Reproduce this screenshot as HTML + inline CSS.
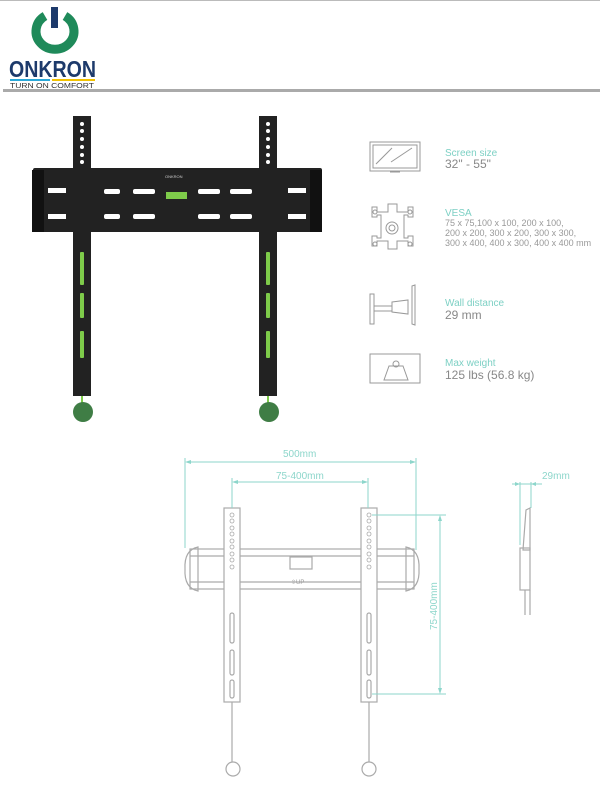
<!DOCTYPE html>
<html><head><meta charset="utf-8"><style>body{margin:0;background:#fff}svg{display:block}text{font-family:"Liberation Sans",sans-serif}</style></head><body>
<svg width="600" height="800" viewBox="0 0 600 800" xmlns="http://www.w3.org/2000/svg">
<line x1="0" y1="0.5" x2="600" y2="0.5" stroke="#bbb"/>
<!-- logo -->
<path d="M45 16 A19 18 0 1 0 65 16" fill="none" stroke="#1f8a5a" stroke-width="9"/>
<rect x="51" y="7" width="7" height="21" fill="#1d3a6b"/>
<text x="9" y="77" font-size="23" font-weight="bold" fill="#1d3a6b" textLength="87" lengthAdjust="spacingAndGlyphs">ONKRON</text>
<rect x="10" y="79" width="40" height="2" fill="#2aa8d8"/><rect x="52" y="79" width="43" height="2" fill="#f2c200"/>
<text x="10" y="88" font-size="7" fill="#333" textLength="84" lengthAdjust="spacingAndGlyphs">TURN ON COMFORT</text>
<rect x="3" y="89" width="597" height="3" fill="#aaa"/>
<!-- black mount -->
<g fill="#222">
<rect x="33" y="168" width="289" height="64" rx="2"/>
<rect x="73" y="116" width="18" height="280"/>
<rect x="259" y="116" width="18" height="280"/>
</g>
<rect x="32" y="170" width="12" height="62" fill="#111"/><rect x="310" y="170" width="12" height="62" fill="#111"/>
<g fill="#fff">
<rect x="104" y="189" width="16" height="5" rx="2"/><rect x="133" y="189" width="22" height="5" rx="2"/><rect x="198" y="189" width="22" height="5" rx="2"/><rect x="230" y="189" width="22" height="5" rx="2"/>
<rect x="104" y="214" width="16" height="5" rx="2"/><rect x="133" y="214" width="22" height="5" rx="2"/><rect x="198" y="214" width="22" height="5" rx="2"/><rect x="230" y="214" width="22" height="5" rx="2"/>
<rect x="48" y="188" width="18" height="5"/><rect x="48" y="214" width="18" height="5"/><rect x="288" y="188" width="18" height="5"/><rect x="288" y="214" width="18" height="5"/>
<circle cx="82" cy="124" r="2"/><circle cx="82" cy="131" r="2"/><circle cx="82" cy="139" r="2"/><circle cx="82" cy="147" r="2"/><circle cx="82" cy="155" r="2"/><circle cx="82" cy="162" r="2"/>
<circle cx="268" cy="124" r="2"/><circle cx="268" cy="131" r="2"/><circle cx="268" cy="139" r="2"/><circle cx="268" cy="147" r="2"/><circle cx="268" cy="155" r="2"/><circle cx="268" cy="162" r="2"/>
</g>
<rect x="166" y="192" width="21" height="7" fill="#7ecb4a"/>
<text x="165" y="178" font-size="4" fill="#ccc">ONKRON</text>
<g fill="#7ecb4a">
<rect x="80" y="252" width="4" height="33" rx="1"/><rect x="80" y="293" width="4" height="25" rx="1"/><rect x="80" y="331" width="4" height="27" rx="1"/>
<rect x="266" y="252" width="4" height="33" rx="1"/><rect x="266" y="293" width="4" height="25" rx="1"/><rect x="266" y="331" width="4" height="27" rx="1"/>
</g>
<line x1="82" y1="396" x2="82" y2="405" stroke="#7ecb4a" stroke-width="2"/><line x1="268" y1="396" x2="268" y2="405" stroke="#7ecb4a" stroke-width="2"/>
<circle cx="83" cy="412" r="10" fill="#3f7d45"/><circle cx="269" cy="412" r="10" fill="#3f7d45"/>
<!-- icons -->
<g fill="none" stroke="#999" stroke-width="1">
<rect x="370" y="142" width="50" height="29"/><rect x="373" y="145" width="44" height="23"/><line x1="376" y1="164" x2="392" y2="148"/><line x1="391" y1="162" x2="412" y2="148"/><line x1="390" y1="172" x2="400" y2="172"/>
<path d="M388 204h9v8h11v-5h5v10h-5v-2l-4 0v23h4v-2h5v10h-5v-5h-11v8h-9v-8h-11v5h-5v-10h5v2h4v-23h-4v2h-5v-10h5v5h11z"/>
<circle cx="392" cy="228" r="6"/><circle cx="392" cy="228" r="3"/>
<circle cx="375" cy="212" r="2"/><circle cx="410" cy="212" r="2"/><circle cx="375" cy="244" r="2"/><circle cx="410" cy="244" r="2"/>
<rect x="370" y="294" width="4" height="30"/><rect x="374" y="306" width="18" height="5"/><path d="M392 302l16-2v14l-16-2z"/><path d="M412 286l3-1v40l-3-1z"/>
<rect x="370" y="354" width="50" height="29"/><path d="M384 380l5-14h14l5 14z"/><circle cx="396" cy="364" r="3"/>
</g>
<g font-size="10">
<text x="445" y="156" fill="#7dd0c4">Screen size</text><text x="445" y="168" fill="#888" font-size="12">32" - 55"</text>
<text x="445" y="216" fill="#7dd0c4">VESA</text>
<text x="445" y="226" fill="#999" font-size="9">75 x 75,100 x 100, 200 x 100,</text>
<text x="445" y="236" fill="#999" font-size="9">200 x 200, 300 x 200, 300 x 300,</text>
<text x="445" y="246" fill="#999" font-size="9">300 x 400, 400 x 300, 400 x 400 mm</text>
<text x="445" y="306" fill="#7dd0c4">Wall distance</text><text x="445" y="319" fill="#888" font-size="12">29 mm</text>
<text x="445" y="366" fill="#7dd0c4">Max weight</text><text x="445" y="379" fill="#888" font-size="12">125 lbs (56.8 kg)</text>
</g>
<!-- line drawing -->
<g fill="none" stroke="#aaa" stroke-width="1.2">
<rect x="190" y="549" width="224" height="40"/><line x1="190" y1="556" x2="414" y2="556"/><line x1="190" y1="582" x2="414" y2="582"/>
<path d="M198 547q-14 3-13 22q-1 19 13 22z"/><path d="M406 547q14 3 13 22q1 19-13 22z"/>
<rect x="224" y="508" width="16" height="194" fill="#fff"/><rect x="361" y="508" width="16" height="194" fill="#fff"/>
<rect x="290" y="557" width="22" height="12"/>
<rect x="230" y="613" width="4" height="30" rx="2"/><rect x="230" y="650" width="4" height="25" rx="2"/><rect x="230" y="680" width="4" height="18" rx="2"/>
<rect x="367" y="613" width="4" height="30" rx="2"/><rect x="367" y="650" width="4" height="25" rx="2"/><rect x="367" y="680" width="4" height="18" rx="2"/>
<line x1="232" y1="702" x2="232" y2="762"/><line x1="369" y1="702" x2="369" y2="762"/>
<circle cx="233" cy="769" r="7"/><circle cx="369" cy="769" r="7"/>
<g stroke-width="0.8"><circle cx="232" cy="515" r="2"/><circle cx="232" cy="521" r="2"/><circle cx="232" cy="528" r="2"/><circle cx="232" cy="534" r="2"/><circle cx="232" cy="541" r="2"/><circle cx="232" cy="547" r="2"/><circle cx="232" cy="554" r="2"/><circle cx="232" cy="560" r="2"/><circle cx="232" cy="567" r="2"/>
<circle cx="369" cy="515" r="2"/><circle cx="369" cy="521" r="2"/><circle cx="369" cy="528" r="2"/><circle cx="369" cy="534" r="2"/><circle cx="369" cy="541" r="2"/><circle cx="369" cy="547" r="2"/><circle cx="369" cy="554" r="2"/><circle cx="369" cy="560" r="2"/><circle cx="369" cy="567" r="2"/></g>
<path d="M530 508l-4 2-3 40h7z"/><rect x="520" y="548" width="10" height="42"/><line x1="525" y1="590" x2="525" y2="615"/><line x1="530" y1="590" x2="530" y2="615"/>
</g>
<text x="291" y="584" font-size="6" fill="#999">⇧UP</text>
<g stroke="#8dd6cb" stroke-width="1" fill="#8dd6cb">
<line x1="185" y1="458" x2="185" y2="548"/><line x1="416" y1="458" x2="416" y2="550"/><line x1="187" y1="462" x2="414" y2="462"/>
<line x1="232" y1="478" x2="232" y2="508"/><line x1="368" y1="478" x2="368" y2="508"/><line x1="234" y1="482" x2="366" y2="482"/>
<line x1="372" y1="515" x2="446" y2="515"/><line x1="372" y1="694" x2="446" y2="694"/><line x1="440" y1="517" x2="440" y2="692"/>
<line x1="520" y1="482" x2="520" y2="545"/><line x1="531" y1="482" x2="531" y2="508"/><line x1="512" y1="484" x2="542" y2="484"/>
<path d="M185 462l6-2v4z M416 462l-6-2v4z M232 482l6-2v4z M368 482l-6-2v4z M440 515l-2 6h4z M440 694l-2-6h4z M520 484l-5-2v4z M531 484l5-2v4z" stroke="none"/>
</g>
<g fill="#8dd6cb" font-size="10">
<text x="283" y="457">500mm</text><text x="276" y="479">75-400mm</text>
<text x="0" y="0" transform="translate(437,630) rotate(-90)">75-400mm</text>
<text x="542" y="479">29mm</text>
</g>
</svg>
</body></html>
